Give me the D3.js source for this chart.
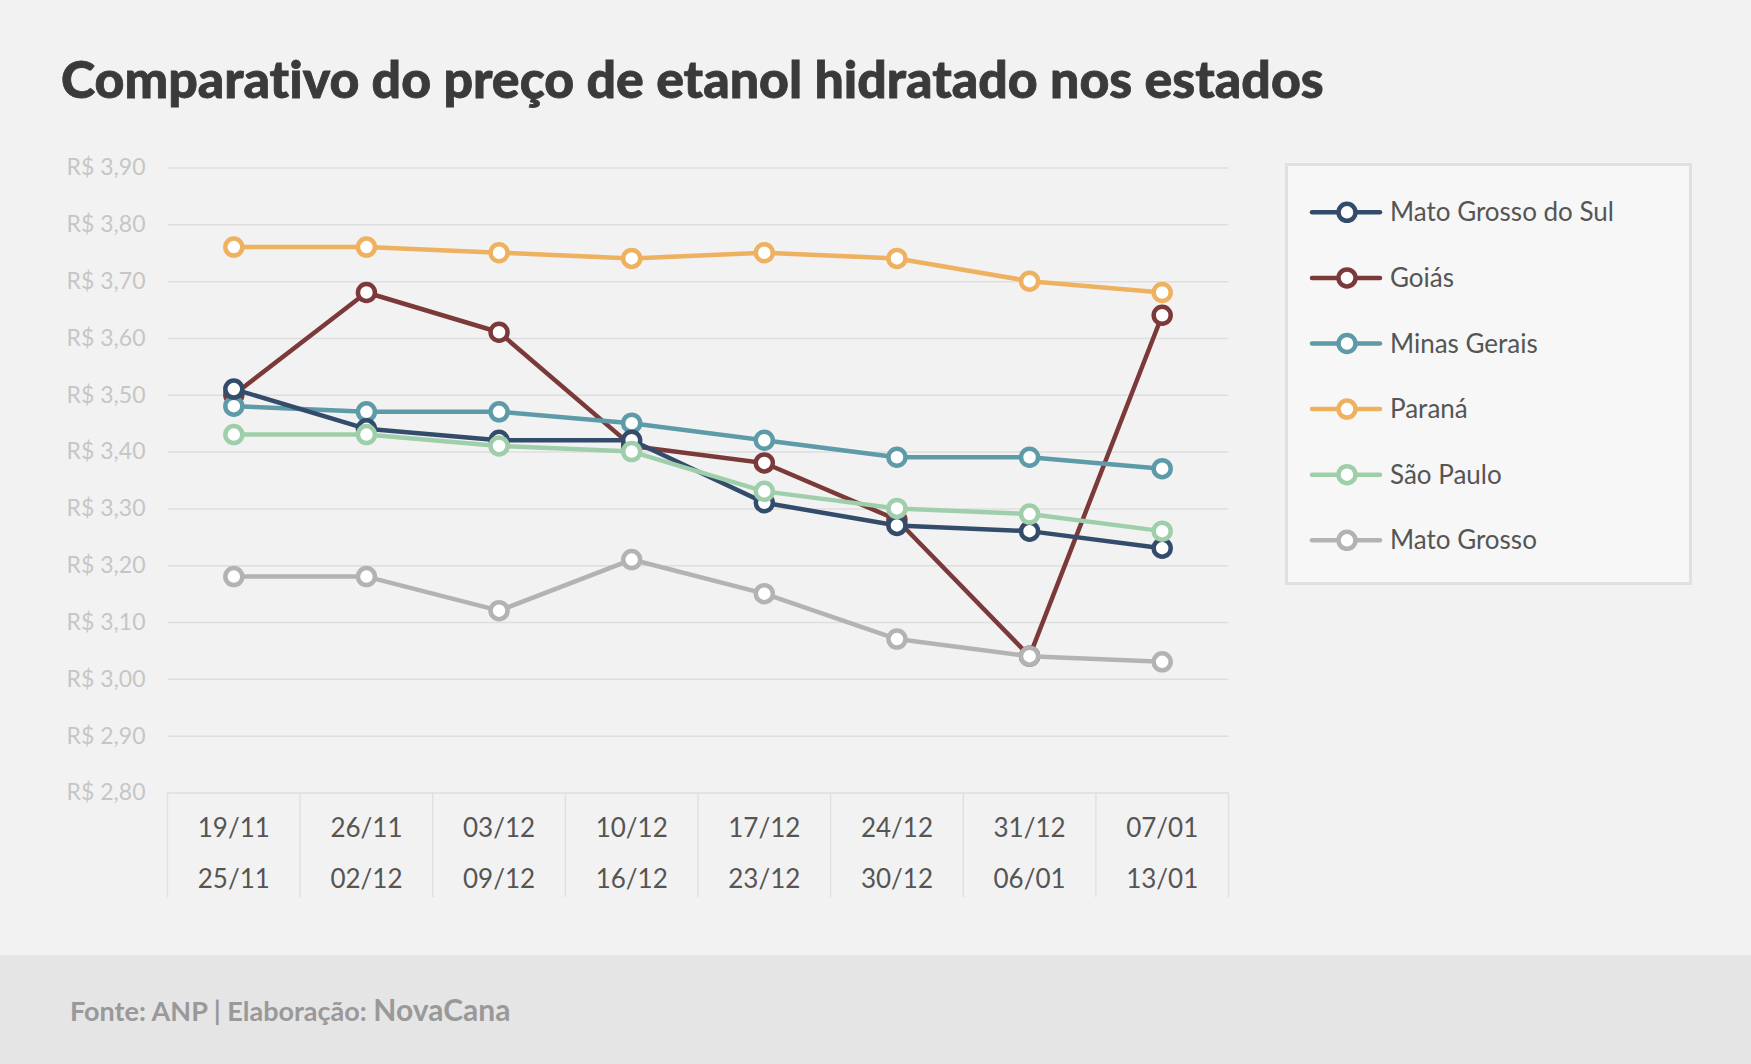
<!DOCTYPE html>
<html>
<head>
<meta charset="utf-8">
<script src="https://cdn.jsdelivr.net/npm/d3@7"></script>
<style>
  html, body { margin: 0; padding: 0; background: #f2f2f2; }
  svg { display: block; font-family: Lato, "Open Sans", sans-serif; font-variant-ligatures: none; }
</style>
</head>
<body>
<div id="chart"></div>
<script>
// week ranges (two lines per tick)
const weekStart = ['19/11', '26/11', '03/12', '10/12', '17/12', '24/12', '31/12', '07/01'];
const weekEnd = ['25/11', '02/12', '09/12', '16/12', '23/12', '30/12', '06/01', '13/01'];

const yTicks = [2.8, 2.9, 3.0, 3.1, 3.2, 3.3, 3.4, 3.5, 3.6, 3.7, 3.8, 3.9];

// legend order
const stateNames = ['Mato Grosso do Sul', 'Goiás', 'Minas Gerais', 'Paraná', 'São Paulo', 'Mato Grosso'];
const stateColors = ['#344c6b', '#7b3a39', '#5e9ba8', '#edb160', '#9fcfaa', '#b3b3b3'];

const msValues = [3.51, 3.44, 3.42, 3.42, 3.31, 3.27, 3.26, 3.23];
const goValues = [3.50, 3.68, 3.61, 3.41, 3.38, 3.28, 3.04, 3.64];
const mgValues = [3.48, 3.47, 3.47, 3.45, 3.42, 3.39, 3.39, 3.37];
const prValues = [3.76, 3.76, 3.75, 3.74, 3.75, 3.74, 3.70, 3.68];
const spValues = [3.43, 3.43, 3.41, 3.40, 3.33, 3.30, 3.29, 3.26];
const mtValues = [3.18, 3.18, 3.12, 3.21, 3.15, 3.07, 3.04, 3.03];

const seriesValues = [msValues, goValues, mgValues, prValues, spValues, mtValues];
// draw order (which series ends up on top)
const drawOrder = [3, 1, 2, 0, 4, 5];

const W = 1751, H = 1064;
const svg = d3.select('#chart').append('svg')
    .attr('width', W)
    .attr('height', H);

svg.append('rect').attr('width', W).attr('height', H).attr('fill', '#f2f2f2');

// title (a thin stroke to get closer to the heavy weight)
svg.append('text')
    .attr('x', 61)
    .attr('y', 98)
    .attr('fill', '#3a3a3a')
    .attr('stroke', '#3a3a3a')
    .attr('stroke-width', 0.8)
    .style('font-size', '51.8px')
    .style('font-weight', 900)
    .text('Comparativo do preço de etanol hidratado nos estados');

const plot = { left: 167.5, right: 1228.5, top: 167.5, bottom: 792.5 };

const x = d3.scaleBand()
    .domain(weekStart)
    .range([plot.left, plot.right]);

const y = d3.scaleLinear()
    .domain([2.8, 3.9])
    .range([plot.bottom, plot.top]);

const fmt = v => 'R$ ' + d3.format('.2f')(v).replace('.', ',');

// horizontal grid + y labels
const yAxis = d3.axisLeft(y)
    .tickValues(yTicks)
    .tickSize(-(plot.right - plot.left))
    .tickPadding(22)
    .tickFormat(fmt);

const gy = svg.append('g')
    .attr('transform', `translate(${plot.left},0)`)
    .call(yAxis);
gy.select('.domain').remove();
gy.selectAll('.tick line').attr('stroke', '#dedede').attr('stroke-width', 1.5);
gy.selectAll('.tick text')
    .attr('fill', '#c6c6c6')
    .style('font-size', '23px')
    .style('font-family', 'Lato, sans-serif');

// category table below the plot
const tableBottom = 897;
const bounds = weekStart.map(d => x(d)).concat([plot.right]);
svg.append('g').selectAll('line')
    .data(bounds)
    .enter().append('line')
    .attr('x1', d => d).attr('x2', d => d)
    .attr('y1', plot.bottom).attr('y2', tableBottom)
    .attr('stroke', '#e0e0e0')
    .attr('stroke-width', 1.5);

const xLabels = svg.append('g')
    .style('font-size', '26px')
    .attr('fill', '#555')
    .attr('text-anchor', 'middle');
xLabels.selectAll('text.start')
    .data(weekStart)
    .enter().append('text')
    .attr('class', 'start')
    .attr('x', d => x(d) + x.bandwidth() / 2)
    .attr('y', 837)
    .text(d => d);
xLabels.selectAll('text.end')
    .data(weekEnd)
    .enter().append('text')
    .attr('class', 'end')
    .attr('x', (d, i) => x(weekStart[i]) + x.bandwidth() / 2)
    .attr('y', 888)
    .text(d => d);

// lines + markers
const line = d3.line()
    .x((d, i) => x(weekStart[i]) + x.bandwidth() / 2)
    .y(d => y(d));

drawOrder.forEach(si => {
    const g = svg.append('g');
    g.append('path')
        .datum(seriesValues[si])
        .attr('d', line)
        .attr('fill', 'none')
        .attr('stroke', stateColors[si])
        .attr('stroke-width', 4.5)
        .attr('stroke-linejoin', 'round');
    g.selectAll('circle')
        .data(seriesValues[si])
        .enter().append('circle')
        .attr('cx', (d, i) => x(weekStart[i]) + x.bandwidth() / 2)
        .attr('cy', d => y(d))
        .attr('r', 8.5)
        .attr('fill', '#fff')
        .attr('stroke', stateColors[si])
        .attr('stroke-width', 4.5);
});

// legend
const legend = svg.append('g');
legend.append('rect')
    .attr('x', 1286.5).attr('y', 164.5)
    .attr('width', 404).attr('height', 419)
    .attr('fill', '#f7f7f7')
    .attr('stroke', '#e0e0e0')
    .attr('stroke-width', 3);

const item = legend.selectAll('g.item')
    .data(stateNames)
    .enter().append('g')
    .attr('class', 'item')
    .attr('transform', (d, i) => `translate(0,${212.3 + i * 65.6})`);
item.append('line')
    .attr('x1', 1312).attr('x2', 1380)
    .attr('stroke', (d, i) => stateColors[i])
    .attr('stroke-width', 4.5)
    .attr('stroke-linecap', 'round');
item.append('circle')
    .attr('cx', 1347).attr('r', 8.5)
    .attr('fill', '#fff')
    .attr('stroke', (d, i) => stateColors[i])
    .attr('stroke-width', 4.5);
item.append('text')
    .attr('x', 1390).attr('y', 9)
    .attr('fill', '#555')
    .style('font-size', '26px')
    .text(d => d);

// footer
svg.append('rect')
    .attr('x', 0).attr('y', 955)
    .attr('width', W).attr('height', H - 955)
    .attr('fill', '#e5e5e5');

const foot = svg.append('text')
    .attr('x', 70).attr('y', 1021)
    .attr('fill', '#999');
foot.append('tspan')
    .style('font-size', '27px')
    .style('font-weight', 700)
    .text('Fonte: ANP | Elaboração: ');
foot.append('tspan')
    .style('font-size', '30px')
    .style('font-weight', 700)
    .text('NovaCana');
</script>
</body>
</html>
